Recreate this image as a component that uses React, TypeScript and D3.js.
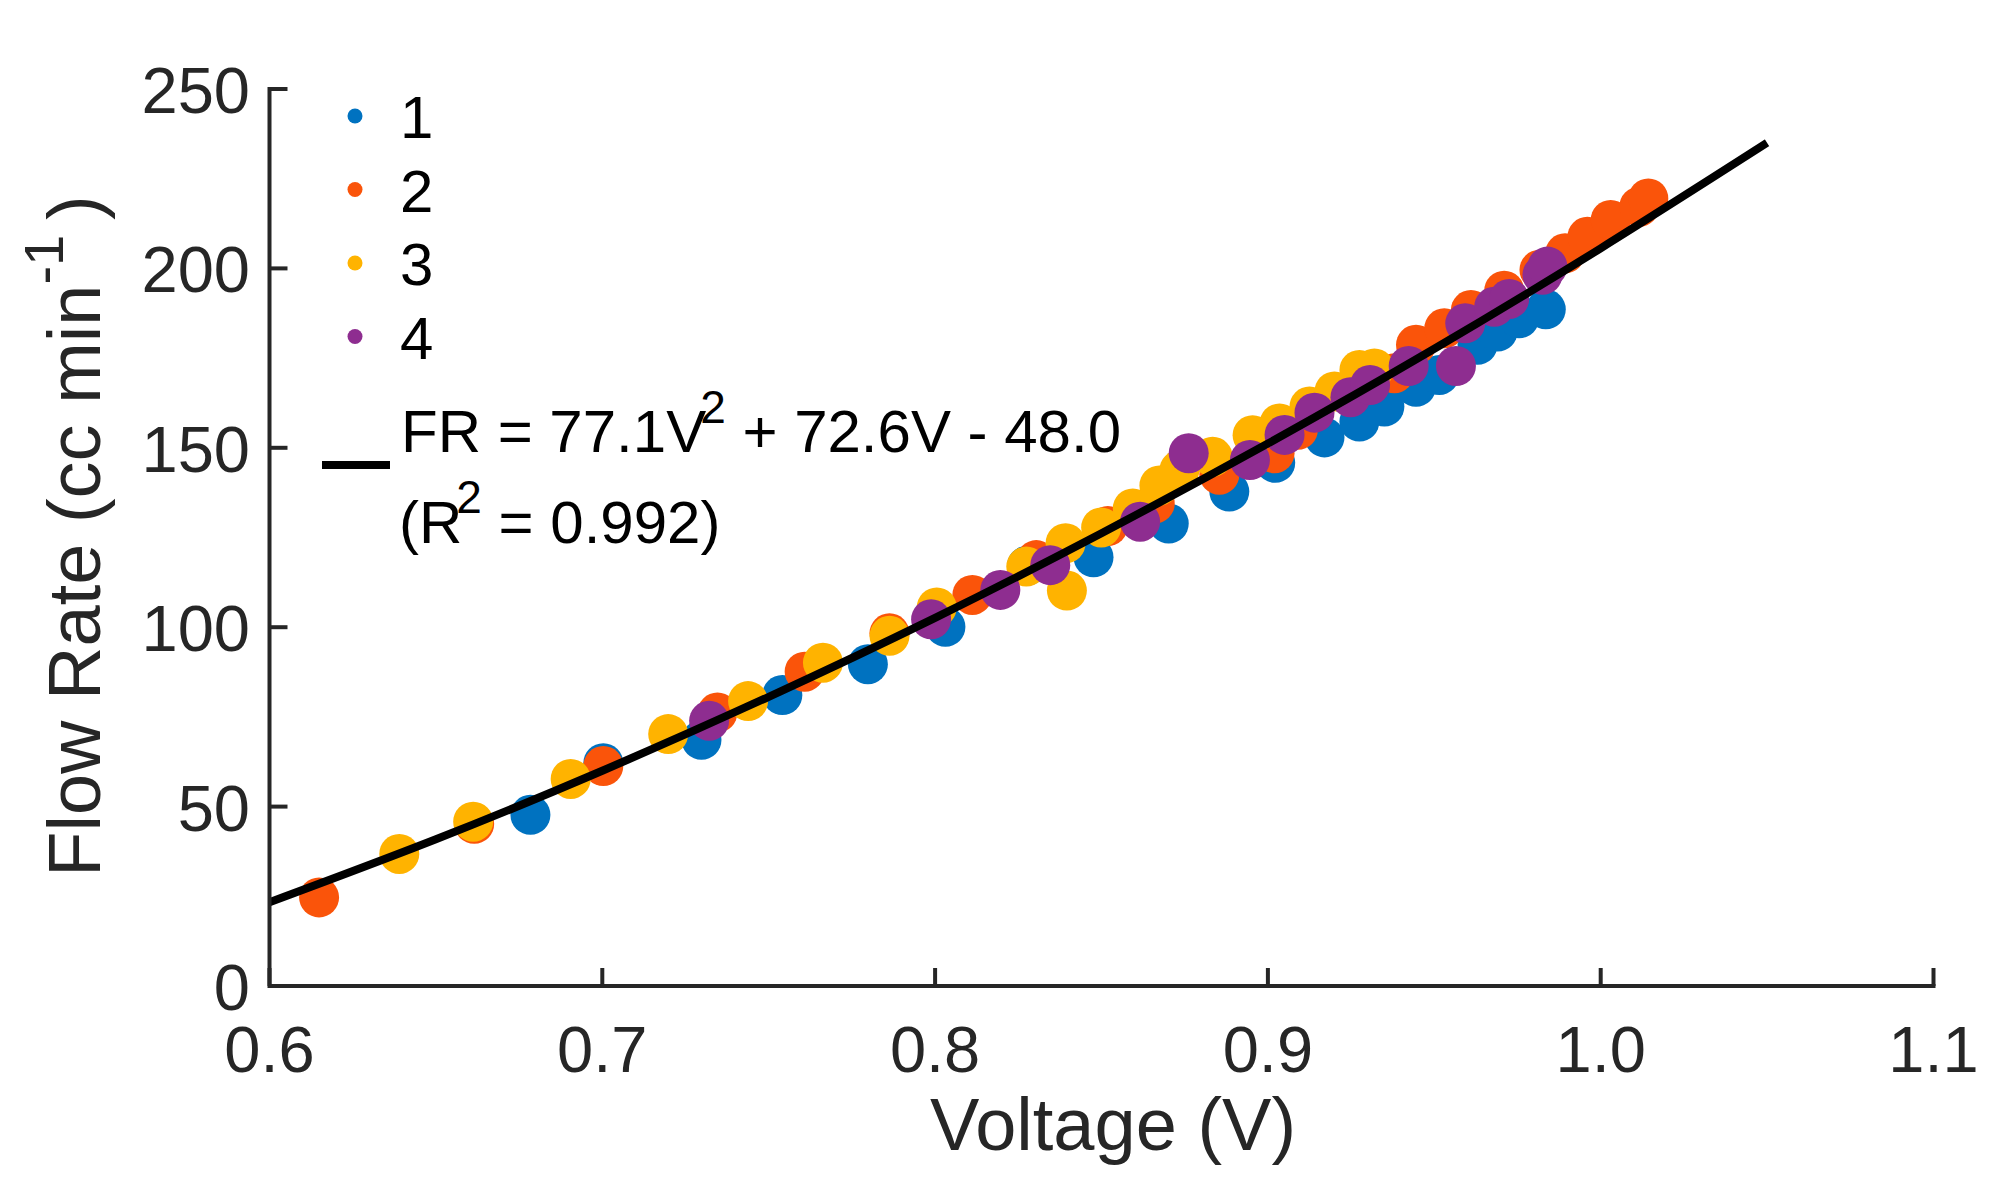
import React from "react";
import * as d3 from "d3";

// ---- data ----
const seriesNames = ["1", "2", "3", "4"];
const seriesColors = ["#0072C0", "#FA540A", "#FFB300", "#8E2D90"];

const s1V = [0.6784, 0.7003, 0.7298, 0.7541, 0.7798, 0.8031, 0.8276, 0.8476, 0.8702, 0.8884, 0.9022, 0.917, 0.9275, 0.935, 0.9445, 0.9515, 0.963, 0.969, 0.9755, 0.9835];
const s1F = [47.7, 62.1, 68.6, 81.1, 89.7, 100.1, 117.1, 119.5, 128.9, 137.8, 145.8, 152.9, 157.3, 161.5, 167.0, 170.3, 178.7, 182.4, 186.1, 188.6];

const s2V = [0.6149, 0.6615, 0.7003, 0.7346, 0.7608, 0.7863, 0.8112, 0.8304, 0.8519, 0.866, 0.8854, 0.902, 0.909, 0.938, 0.9445, 0.953, 0.961, 0.971, 0.9816, 0.9893, 0.996, 1.003, 1.0116, 1.0143];
const s2F = [24.7, 45.2, 61.3, 76.2, 87.6, 98.3, 109.0, 118.7, 128.2, 134.5, 142.5, 148.5, 155.0, 170.8, 178.7, 183.3, 188.4, 193.8, 199.6, 204.2, 208.8, 213.5, 217.2, 219.5];

const s3V = [0.639, 0.6612, 0.6905, 0.7198, 0.7438, 0.7663, 0.7863, 0.8005, 0.8274, 0.8392, 0.8396, 0.8499, 0.8594, 0.8674, 0.8734, 0.8834, 0.8954, 0.9035, 0.9125, 0.92, 0.9275, 0.932];
const s3F = [36.8, 45.8, 57.7, 70.2, 79.4, 90.1, 97.6, 105.5, 116.9, 123.4, 110.2, 127.8, 133.1, 139.5, 143.8, 147.5, 153.5, 156.8, 161.5, 165.7, 171.7, 172.1];

const s4V = [0.7321, 0.7988, 0.8196, 0.8346, 0.8616, 0.8762, 0.8946, 0.905, 0.914, 0.9248, 0.9307, 0.9423, 0.9565, 0.9593, 0.968, 0.9725, 0.9825, 0.984];
const s4F = [73.9, 102.2, 110.4, 117.3, 129.4, 148.5, 146.6, 153.6, 159.8, 164.1, 167.5, 172.8, 172.8, 184.7, 189.3, 191.5, 198.2, 200.5];

const fitV = [0.6, 0.65, 0.7, 0.75, 0.8, 0.85, 0.9, 0.95, 1.0, 1.05];
const fitF = [23.35, 40.9, 60.0, 80.6, 102.6, 126.2, 151.2, 177.6, 205.6, 235.0];

const xTicks = [0.6, 0.7, 0.8, 0.9, 1.0, 1.1];
const xTickLabels = ["0.6", "0.7", "0.8", "0.9", "1.0", "1.1"];
const yTicks = [0, 50, 100, 150, 200, 250];

const allV = [s1V, s2V, s3V, s4V];
const allF = [s1F, s2F, s3F, s4F];

export default function App() {
  const W = 1990;
  const H = 1183;
  const x = d3.scaleLinear().domain([0.6, 1.1]).range([269.5, 1933.5]);
  const y = d3.scaleLinear().domain([0, 250]).range([986, 89]);
  const axisColor = "#262626";
  const font = "'Liberation Sans', Arial, Helvetica, sans-serif";
  const tickLen = 18;

  const line = d3
    .line<number>()
    .x((_, i) => x(fitV[i]))
    .y((d) => y(d))
    .curve(d3.curveNatural);

  const legendRowY = [116, 189.5, 263, 336.5];

  return (
    <svg
      width={W}
      height={H}
      style={{ position: "absolute", left: 0, top: 0, background: "#fff" }}
      fontFamily={font}
    >
      <rect x={0} y={0} width={W} height={H} fill="#fff" />
      {/* scatter */}
      {allV.map((vs, si) => (
        <g key={si} fill={seriesColors[si]}>
          {vs.map((v, i) => (
            <circle key={i} cx={x(v)} cy={y(allF[si][i])} r={20} />
          ))}
        </g>
      ))}
      {/* fit curve */}
      <path d={line(fitF) || ""} fill="none" stroke="#000" strokeWidth={8} />

      {/* axes */}
      <g stroke={axisColor} strokeWidth={4} fill="none">
        <path d={`M${x(0.6)},${y(250)} V${y(0)} H${x(1.1)}`} strokeLinecap="square" />
        {xTicks.map((t) => (
          <line key={t} x1={x(t)} x2={x(t)} y1={y(0)} y2={y(0) - tickLen} />
        ))}
        {yTicks.map((t) => (
          <line key={t} x1={x(0.6)} x2={x(0.6) + tickLen} y1={y(t)} y2={y(t)} />
        ))}
      </g>
      <g fill={axisColor} fontSize={65}>
        {xTicks.map((t, i) => (
          <text key={t} x={x(t)} y={1072} textAnchor="middle">
            {xTickLabels[i]}
          </text>
        ))}
        {yTicks.map((t) => (
          <text key={t} x={250} y={y(t) + 24} textAnchor="end">
            {t}
          </text>
        ))}
      </g>
      {/* axis labels */}
      <text x={1113} y={1150} textAnchor="middle" fontSize={74} fill={axisColor}>
        Voltage (V)
      </text>
      <text
        transform={`translate(100,536) rotate(-90)`}
        textAnchor="middle"
        fontSize={74}
        fill={axisColor}
      >
        Flow Rate (cc min
        <tspan dy={-37} fontSize={56}>-1</tspan>
        <tspan dy={37} fontSize={74}>{"\u2009)"}</tspan>
      </text>

      {/* legend */}
      {seriesNames.map((n, i) => (
        <g key={n}>
          <circle cx={355} cy={legendRowY[i]} r={7.5} fill={seriesColors[i]} />
          <text x={400} y={legendRowY[i] + 22} fontSize={60} fill="#000">
            {n}
          </text>
        </g>
      ))}
      <line x1={322} x2={390} y1={465} y2={465} stroke="#000" strokeWidth={8} />
      <text x={401} y={452} fontSize={60} fill="#000">
        FR = 77.1V
        <tspan dy={-29} dx={-6} fontSize={46}>2</tspan>
        <tspan dy={29} fontSize={60}>{" + 72.6V - 48.0"}</tspan>
      </text>
      <text x={399} y={543} fontSize={60} fill="#000">
        (R
        <tspan dy={-30} dx={-6} fontSize={46}>2</tspan>
        <tspan dy={30} fontSize={60}>{" = 0.992)"}</tspan>
      </text>
    </svg>
  );
}
